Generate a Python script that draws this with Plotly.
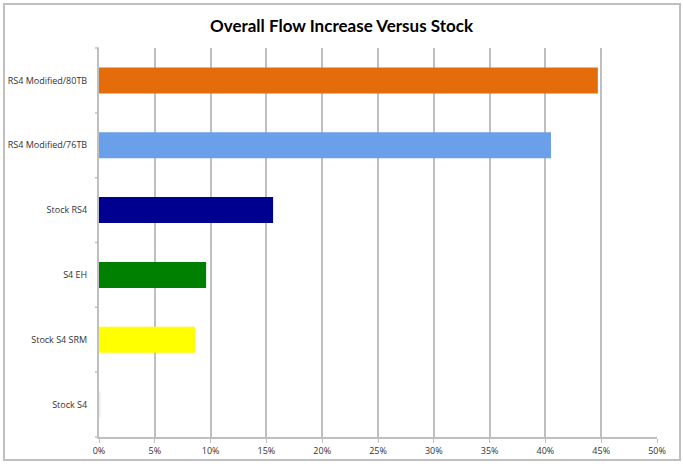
import plotly.graph_objects as go

categories = ["Stock S4", "Stock S4 SRM", "S4 EH", "Stock RS4", "RS4 Modified/76TB", "RS4 Modified/80TB"]
flow_increase = [0.001, 0.086, 0.096, 0.156, 0.405, 0.447]
bar_colors = ["#f2f2f2", "#ffff00", "#008000", "#000090", "#6a9fea", "#e46c0a"]
tick_vals = [0, 0.05, 0.10, 0.15, 0.20, 0.25, 0.30, 0.35, 0.40, 0.45, 0.50]
tick_text = ["0%", "5%", "10%", "15%", "20%", "25%", "30%", "35%", "40%", "45%", "50%"]

W, H = 683, 466
L, R, T, B = 99, 26, 48, 29
pw, ph = W - L - R, H - T - B

fig = go.Figure(go.Bar(
    y=categories, x=flow_increase, orientation="h",
    marker=dict(color=bar_colors, line=dict(width=0)),
    width=0.4,
))

fig.update_layout(
    width=W, height=H,
    margin=dict(l=L, r=R, t=T, b=B, autoexpand=False),
    paper_bgcolor="white", plot_bgcolor="white",
    showlegend=False,
    title=dict(text="<b>Overall Flow Increase Versus Stock</b>",
               font=dict(family="Lato", size=17, color="black"),
               x=0.5, xanchor="center", y=1 - 26 / H, yanchor="middle"),
    font=dict(family="Open Sans", size=9, color="#333333"),
    xaxis=dict(range=[0, 0.5], tickvals=tick_vals, ticktext=tick_text,
               showgrid=True, gridcolor="#bfbfbf", gridwidth=2,
               showline=True, linecolor="#bfbfbf", linewidth=2,
               ticks="outside", ticklen=4, tickcolor="#bfbfbf",
               zeroline=False, tickfont=dict(size=9), fixedrange=True,
               automargin=False),
    yaxis=dict(categoryorder="array", categoryarray=categories,
               showgrid=False, showline=True, linecolor="#bfbfbf", linewidth=2,
               ticks="", zeroline=False, tickfont=dict(size=9),
               ticklabelstandoff=8, automargin=False),
    bargap=0.6,
)

# category boundary tick marks on the y axis
n = len(categories)
for i in range(n + 1):
    yy = i / n
    fig.add_shape(type="line", xref="paper", yref="paper",
                  x0=-4 / pw, x1=0, y0=yy, y1=yy,
                  line=dict(color="#bfbfbf", width=1.5))

# outer chart border
fig.add_shape(type="rect", xref="paper", yref="paper",
              x0=(4 - L) / pw, x1=(680 - L) / pw,
              y0=-(460 - T - ph) / ph, y1=1 + (T - 4) / ph,
              line=dict(color="#bfbfbf", width=2), fillcolor="rgba(0,0,0,0)")

fig.write_html("out.html", config={"displayModeBar": False},
               post_script="document.body.style.margin='0';document.body.style.padding='0';")
